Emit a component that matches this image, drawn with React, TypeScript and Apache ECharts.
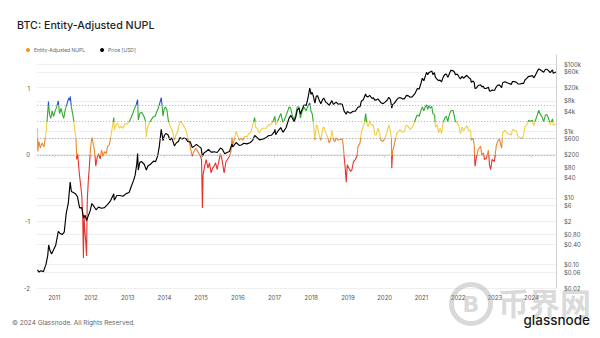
import React, { useEffect, useRef } from "react";
import * as echarts from "echarts";

const titleText = "BTC: Entity-Adjusted NUPL";
const seriesNames = ["Entity-Adjusted NUPL", "Price [USD]"];

const yearTicks = [2011, 2012, 2013, 2014, 2015, 2016, 2017, 2018, 2019, 2020, 2021, 2022, 2023, 2024];
const nuplTicks = [-2, -1, 0, 1];
const nuplBands = [0, 0.25, 0.5, 0.75];
const priceTicks = [0.02, 0.06, 0.1, 0.4, 0.8, 2, 6, 10, 40, 80, 200, 600, 1000, 4000, 8000, 20000, 60000, 100000];
const priceTickLabels = ["$0.02", "$0.06", "$0.10", "$0.40", "$0.80", "$2", "$6", "$10", "$40", "$80", "$200", "$600", "$1k", "$4k", "$8k", "$20k", "$60k", "$100k"];

const nuplPoints: [string, number][] = [
  ["2010-07-18", 0.4], ["2010-07-21", 0.05], ["2010-08-01", 0.2], ["2010-08-15", 0.1], ["2010-09-01", 0.18],
  ["2010-09-20", 0.12], ["2010-10-08", 0.3], ["2010-10-22", 0.52], ["2010-11-04", 0.8], ["2010-11-15", 0.6],
  ["2010-11-28", 0.55], ["2010-12-10", 0.66], ["2010-12-25", 0.58], ["2011-01-10", 0.66], ["2011-01-25", 0.72],
  ["2011-02-10", 0.81], ["2011-02-22", 0.62], ["2011-03-10", 0.7], ["2011-03-25", 0.6], ["2011-04-05", 0.55],
  ["2011-04-20", 0.68], ["2011-05-10", 0.78], ["2011-05-25", 0.85], ["2011-06-03", 0.82], ["2011-06-09", 0.88],
  ["2011-06-20", 0.72], ["2011-07-05", 0.6], ["2011-07-15", 0.5], ["2011-07-25", 0.36], ["2011-08-05", 0.25],
  ["2011-08-12", -0.07], ["2011-08-22", 0.02], ["2011-09-05", -0.25], ["2011-09-20", -0.45], ["2011-10-01", -0.6],
  ["2011-10-10", -0.9], ["2011-10-18", -1.55], ["2011-10-24", -0.9], ["2011-10-30", -1.1], ["2011-11-10", -1.3],
  ["2011-11-18", -1.52], ["2011-11-25", -0.7], ["2011-12-05", -0.4], ["2011-12-15", -0.2], ["2011-12-25", 0.05],
  ["2012-01-05", 0.22], ["2012-01-12", 0.27], ["2012-01-25", 0.15], ["2012-02-05", 0.07], ["2012-02-18", -0.17],
  ["2012-03-01", -0.05], ["2012-03-15", 0.02], ["2012-04-01", -0.06], ["2012-04-15", 0.07], ["2012-05-01", -0.02],
  ["2012-05-15", 0.05], ["2012-06-01", 0.02], ["2012-06-15", 0.13], ["2012-07-01", 0.15], ["2012-07-15", 0.25],
  ["2012-08-01", 0.42], ["2012-08-15", 0.56], ["2012-08-20", 0.37], ["2012-09-05", 0.45], ["2012-09-20", 0.48],
  ["2012-10-10", 0.4], ["2012-10-25", 0.43], ["2012-11-15", 0.4], ["2012-12-05", 0.47], ["2012-12-25", 0.46],
  ["2013-01-15", 0.5], ["2013-02-01", 0.55], ["2013-02-20", 0.62], ["2013-03-10", 0.7], ["2013-03-25", 0.75],
  ["2013-04-09", 0.83], ["2013-04-16", 0.52], ["2013-04-30", 0.62], ["2013-05-20", 0.64], ["2013-06-10", 0.58],
  ["2013-06-25", 0.52], ["2013-07-05", 0.27], ["2013-07-15", 0.4], ["2013-08-01", 0.47], ["2013-08-20", 0.52],
  ["2013-09-10", 0.57], ["2013-09-30", 0.58], ["2013-10-15", 0.64], ["2013-11-05", 0.72], ["2013-11-20", 0.8],
  ["2013-11-30", 0.86], ["2013-12-08", 0.75], ["2013-12-18", 0.58], ["2013-12-28", 0.68], ["2014-01-10", 0.72],
  ["2014-01-25", 0.68], ["2014-02-10", 0.5], ["2014-03-01", 0.42], ["2014-03-20", 0.37], ["2014-04-10", 0.22],
  ["2014-04-25", 0.3], ["2014-05-10", 0.34], ["2014-06-01", 0.48], ["2014-06-15", 0.5], ["2014-07-05", 0.45],
  ["2014-07-25", 0.4], ["2014-08-10", 0.34], ["2014-08-20", 0.25], ["2014-09-05", 0.2], ["2014-09-20", 0.08],
  ["2014-10-05", -0.02], ["2014-10-20", 0.05], ["2014-11-10", 0.1], ["2014-11-25", 0.06], ["2014-12-10", 0.02],
  ["2014-12-28", -0.03], ["2015-01-05", -0.07], ["2015-01-14", -0.8], ["2015-01-20", -0.3], ["2015-02-05", -0.17],
  ["2015-02-20", -0.07], ["2015-03-10", -0.2], ["2015-03-25", -0.12], ["2015-04-10", -0.27], ["2015-04-25", -0.2],
  ["2015-05-10", -0.17], ["2015-05-25", -0.12], ["2015-06-10", -0.22], ["2015-06-25", -0.1], ["2015-07-12", 0.02],
  ["2015-07-25", -0.05], ["2015-08-18", -0.27], ["2015-09-05", -0.1], ["2015-09-20", -0.07], ["2015-10-10", -0.02],
  ["2015-10-25", 0.05], ["2015-11-04", 0.27], ["2015-11-12", 0.15], ["2015-11-25", 0.22], ["2015-12-15", 0.35],
  ["2015-12-28", 0.3], ["2016-01-15", 0.22], ["2016-01-30", 0.25], ["2016-02-20", 0.22], ["2016-03-10", 0.28],
  ["2016-04-01", 0.27], ["2016-04-20", 0.32], ["2016-05-10", 0.34], ["2016-05-28", 0.45], ["2016-06-17", 0.56],
  ["2016-06-25", 0.42], ["2016-07-10", 0.4], ["2016-08-02", 0.33], ["2016-08-20", 0.38], ["2016-09-10", 0.4],
  ["2016-10-10", 0.4], ["2016-10-30", 0.45], ["2016-11-20", 0.45], ["2016-12-15", 0.5], ["2017-01-04", 0.58],
  ["2017-01-12", 0.45], ["2017-01-30", 0.5], ["2017-02-20", 0.58], ["2017-03-05", 0.62], ["2017-03-25", 0.48],
  ["2017-04-15", 0.55], ["2017-05-10", 0.65], ["2017-05-25", 0.72], ["2017-06-10", 0.7], ["2017-06-25", 0.6],
  ["2017-07-15", 0.52], ["2017-08-01", 0.62], ["2017-08-15", 0.72], ["2017-09-02", 0.72], ["2017-09-15", 0.55],
  ["2017-10-01", 0.65], ["2017-10-20", 0.72], ["2017-11-10", 0.66], ["2017-11-25", 0.72], ["2017-12-17", 0.78],
  ["2017-12-30", 0.65], ["2018-01-10", 0.62], ["2018-01-20", 0.5], ["2018-02-06", 0.22], ["2018-02-20", 0.45],
  ["2018-03-05", 0.42], ["2018-03-20", 0.3], ["2018-04-06", 0.22], ["2018-04-25", 0.4], ["2018-05-05", 0.42],
  ["2018-05-25", 0.33], ["2018-06-10", 0.28], ["2018-06-28", 0.18], ["2018-07-10", 0.22], ["2018-07-25", 0.37],
  ["2018-08-10", 0.22], ["2018-08-25", 0.2], ["2018-09-05", 0.26], ["2018-09-25", 0.22], ["2018-10-15", 0.23],
  ["2018-11-05", 0.24], ["2018-11-15", 0.15], ["2018-11-25", -0.05], ["2018-12-05", -0.2], ["2018-12-15", -0.41],
  ["2018-12-25", -0.15], ["2019-01-10", -0.2], ["2019-01-28", -0.25], ["2019-02-10", -0.22], ["2019-02-25", -0.1],
  ["2019-03-15", -0.07], ["2019-04-01", -0.02], ["2019-04-10", 0.12], ["2019-05-01", 0.18], ["2019-05-15", 0.35],
  ["2019-06-01", 0.42], ["2019-06-15", 0.48], ["2019-06-26", 0.62], ["2019-07-05", 0.5], ["2019-07-20", 0.42],
  ["2019-08-05", 0.5], ["2019-08-20", 0.45], ["2019-09-10", 0.45], ["2019-09-25", 0.3], ["2019-10-10", 0.3],
  ["2019-10-26", 0.4], ["2019-11-10", 0.33], ["2019-11-25", 0.22], ["2019-12-15", 0.2], ["2020-01-05", 0.25],
  ["2020-01-25", 0.35], ["2020-02-12", 0.45], ["2020-02-28", 0.35], ["2020-03-08", 0.25], ["2020-03-12", -0.2],
  ["2020-03-20", 0.05], ["2020-04-05", 0.15], ["2020-04-30", 0.32], ["2020-05-15", 0.35], ["2020-06-01", 0.38],
  ["2020-06-25", 0.34], ["2020-07-15", 0.35], ["2020-08-05", 0.45], ["2020-08-25", 0.42], ["2020-09-10", 0.38],
  ["2020-09-25", 0.4], ["2020-10-15", 0.45], ["2020-10-30", 0.52], ["2020-11-20", 0.6], ["2020-12-10", 0.58],
  ["2020-12-30", 0.68], ["2021-01-10", 0.72], ["2021-01-25", 0.66], ["2021-02-10", 0.73], ["2021-02-21", 0.75],
  ["2021-03-05", 0.68], ["2021-03-15", 0.74], ["2021-04-01", 0.7], ["2021-04-14", 0.73], ["2021-04-25", 0.62],
  ["2021-05-12", 0.6], ["2021-05-20", 0.42], ["2021-06-05", 0.45], ["2021-06-22", 0.33], ["2021-07-05", 0.4],
  ["2021-07-20", 0.32], ["2021-08-05", 0.48], ["2021-08-20", 0.55], ["2021-09-05", 0.58], ["2021-09-20", 0.5],
  ["2021-10-05", 0.6], ["2021-10-20", 0.66], ["2021-11-10", 0.67], ["2021-11-25", 0.58], ["2021-12-05", 0.5],
  ["2021-12-25", 0.48], ["2022-01-10", 0.42], ["2022-01-24", 0.32], ["2022-02-10", 0.42], ["2022-02-24", 0.36],
  ["2022-03-28", 0.44], ["2022-04-15", 0.37], ["2022-05-05", 0.36], ["2022-05-12", 0.22], ["2022-05-30", 0.25],
  ["2022-06-10", 0.15], ["2022-06-18", -0.17], ["2022-07-01", -0.05], ["2022-07-20", 0.08], ["2022-08-12", 0.13],
  ["2022-08-25", 0.0], ["2022-09-10", 0.03], ["2022-09-20", -0.07], ["2022-10-10", -0.05], ["2022-10-30", 0.07],
  ["2022-11-09", -0.15], ["2022-11-21", -0.22], ["2022-12-05", -0.07], ["2022-12-28", -0.1], ["2023-01-15", 0.13],
  ["2023-01-28", 0.2], ["2023-02-15", 0.24], ["2023-03-10", 0.1], ["2023-03-20", 0.33], ["2023-04-12", 0.37],
  ["2023-05-10", 0.32], ["2023-06-15", 0.3], ["2023-06-25", 0.38], ["2023-07-15", 0.37], ["2023-08-05", 0.35],
  ["2023-08-20", 0.27], ["2023-09-10", 0.26], ["2023-09-30", 0.25], ["2023-10-15", 0.3], ["2023-10-28", 0.42],
  ["2023-11-15", 0.45], ["2023-12-05", 0.52], ["2023-12-20", 0.5], ["2024-01-10", 0.52], ["2024-01-23", 0.44],
  ["2024-02-10", 0.52], ["2024-02-28", 0.6], ["2024-03-14", 0.67], ["2024-03-25", 0.62], ["2024-04-15", 0.57],
  ["2024-05-01", 0.5], ["2024-05-20", 0.6], ["2024-06-05", 0.6], ["2024-06-25", 0.52], ["2024-07-05", 0.45],
  ["2024-07-28", 0.54], ["2024-08-05", 0.44], ["2024-08-31", 0.47],
];

const pricePoints: [string, number][] = [
  ["2010-07-18", 0.07], ["2010-08-01", 0.06], ["2010-08-20", 0.066], ["2010-09-15", 0.062], ["2010-10-10", 0.1],
  ["2010-10-28", 0.19], ["2010-11-06", 0.39], ["2010-11-20", 0.26], ["2010-12-05", 0.21], ["2010-12-25", 0.28],
  ["2011-01-15", 0.38], ["2011-02-10", 1.0], ["2011-02-25", 0.88], ["2011-03-20", 0.8], ["2011-04-10", 0.95],
  ["2011-04-30", 3.5], ["2011-05-20", 6.8], ["2011-06-08", 29.6], ["2011-06-20", 15.5], ["2011-07-10", 14.5],
  ["2011-07-30", 13.4], ["2011-08-20", 10.8], ["2011-09-10", 5.0], ["2011-10-01", 5.1], ["2011-10-20", 2.5],
  ["2011-11-05", 3.0], ["2011-11-18", 2.1], ["2011-12-05", 2.9], ["2011-12-25", 4.2], ["2012-01-10", 6.8],
  ["2012-01-31", 5.5], ["2012-02-20", 4.4], ["2012-03-15", 5.3], ["2012-04-15", 4.9], ["2012-05-15", 5.1],
  ["2012-06-15", 6.4], ["2012-07-15", 8.3], ["2012-08-15", 13.3], ["2012-08-20", 8.5], ["2012-09-15", 11.8],
  ["2012-10-15", 11.8], ["2012-11-15", 11.2], ["2012-12-15", 13.4], ["2013-01-15", 14.5], ["2013-02-01", 20.5],
  ["2013-02-28", 33.4], ["2013-03-15", 47], ["2013-04-01", 104], ["2013-04-09", 214], ["2013-04-16", 68],
  ["2013-05-01", 116], ["2013-05-20", 122], ["2013-06-15", 100], ["2013-07-05", 68], ["2013-07-20", 90],
  ["2013-08-15", 102], ["2013-09-15", 126], ["2013-10-05", 122], ["2013-10-25", 180], ["2013-11-10", 330],
  ["2013-11-30", 1130], ["2013-12-08", 800], ["2013-12-18", 520], ["2013-12-31", 740], ["2014-01-15", 850],
  ["2014-02-05", 780], ["2014-02-25", 540], ["2014-03-15", 630], ["2014-04-10", 360], ["2014-04-30", 450],
  ["2014-05-20", 490], ["2014-06-05", 650], ["2014-06-25", 580], ["2014-07-15", 620], ["2014-08-05", 585],
  ["2014-08-20", 490], ["2014-09-15", 475], ["2014-10-05", 320], ["2014-10-25", 355], ["2014-11-15", 400],
  ["2014-12-10", 350], ["2014-12-31", 315], ["2015-01-14", 178], ["2015-01-31", 225], ["2015-02-20", 245],
  ["2015-03-15", 285], ["2015-04-10", 235], ["2015-05-10", 240], ["2015-06-10", 229], ["2015-07-12", 310],
  ["2015-07-31", 285], ["2015-08-24", 210], ["2015-09-15", 230], ["2015-10-10", 245], ["2015-11-04", 405],
  ["2015-11-12", 335], ["2015-12-15", 455], ["2016-01-15", 375], ["2016-02-05", 385], ["2016-03-01", 432],
  ["2016-04-01", 415], ["2016-05-01", 450], ["2016-05-28", 530], ["2016-06-17", 740], ["2016-07-05", 670],
  ["2016-08-02", 545], ["2016-09-01", 575], ["2016-10-01", 615], ["2016-11-01", 730], ["2016-12-01", 755],
  ["2016-12-31", 960], ["2017-01-04", 1130], ["2017-01-12", 780], ["2017-02-01", 985], ["2017-03-03", 1280],
  ["2017-03-25", 920], ["2017-04-25", 1260], ["2017-05-25", 2450], ["2017-06-12", 2950], ["2017-07-15", 1950],
  ["2017-08-01", 2730], ["2017-08-15", 4300], ["2017-09-01", 4900], ["2017-09-15", 3250], ["2017-10-01", 4400],
  ["2017-10-20", 6000], ["2017-11-12", 5900], ["2017-11-30", 10000], ["2017-12-17", 19300], ["2017-12-30", 12600],
  ["2018-01-10", 14500], ["2018-01-20", 11500], ["2018-02-06", 6900], ["2018-02-20", 11200], ["2018-03-05", 11500],
  ["2018-03-20", 8600], ["2018-04-06", 6600], ["2018-04-25", 9000], ["2018-05-05", 9800], ["2018-05-25", 7400],
  ["2018-06-10", 6800], ["2018-06-28", 5900], ["2018-07-25", 8200], ["2018-08-10", 6300], ["2018-09-05", 7400],
  ["2018-09-25", 6400], ["2018-10-15", 6600], ["2018-11-05", 6400], ["2018-11-25", 3900], ["2018-12-15", 3200],
  ["2018-12-25", 3900], ["2019-01-10", 3600], ["2019-01-28", 3450], ["2019-02-20", 3950], ["2019-03-15", 3950],
  ["2019-04-10", 5200], ["2019-05-01", 5400], ["2019-05-15", 8000], ["2019-06-01", 8550], ["2019-06-26", 12900],
  ["2019-07-05", 11000], ["2019-07-20", 10600], ["2019-08-05", 11800], ["2019-08-29", 9500], ["2019-09-10", 10100],
  ["2019-09-25", 8500], ["2019-10-10", 8600], ["2019-10-26", 9250], ["2019-11-25", 7100], ["2019-12-17", 6650],
  ["2020-01-05", 7400], ["2020-01-25", 8400], ["2020-02-12", 10350], ["2020-02-28", 8700], ["2020-03-12", 4900],
  ["2020-03-20", 6200], ["2020-04-05", 6800], ["2020-04-30", 8650], ["2020-05-15", 9700], ["2020-06-01", 10200],
  ["2020-06-25", 9250], ["2020-07-15", 9200], ["2020-08-05", 11750], ["2020-08-25", 11350], ["2020-09-10", 10350],
  ["2020-10-01", 10600], ["2020-10-30", 13500], ["2020-11-20", 18700], ["2020-12-10", 18300], ["2020-12-30", 28900],
  ["2021-01-10", 38300], ["2021-01-25", 32300], ["2021-02-21", 57500], ["2021-03-05", 48500], ["2021-03-15", 56000],
  ["2021-04-14", 63500], ["2021-04-25", 49000], ["2021-05-10", 56500], ["2021-05-20", 40600], ["2021-06-05", 35800],
  ["2021-06-22", 32500], ["2021-07-05", 33800], ["2021-07-20", 29800], ["2021-08-05", 40800], ["2021-08-20", 49300],
  ["2021-09-05", 51700], ["2021-09-21", 40700], ["2021-10-05", 51500], ["2021-10-20", 65900], ["2021-11-10", 65000],
  ["2021-11-25", 58900], ["2021-12-05", 49400], ["2021-12-25", 50800], ["2022-01-10", 41800], ["2022-01-24", 36600],
  ["2022-02-10", 43500], ["2022-02-24", 38300], ["2022-03-28", 47100], ["2022-04-15", 40500], ["2022-05-05", 36500],
  ["2022-05-12", 29000], ["2022-05-30", 31700], ["2022-06-10", 29000], ["2022-06-18", 19000], ["2022-07-01", 19300],
  ["2022-07-20", 23200], ["2022-08-12", 24400], ["2022-08-25", 21600], ["2022-09-10", 21800], ["2022-09-20", 18900],
  ["2022-10-10", 19100], ["2022-10-30", 20600], ["2022-11-09", 15900], ["2022-11-21", 15800], ["2022-12-05", 17100],
  ["2022-12-28", 16500], ["2023-01-15", 20900], ["2023-01-28", 23700], ["2023-02-15", 24300], ["2023-03-10", 20200],
  ["2023-03-20", 28000], ["2023-04-12", 30000], ["2023-05-10", 27600], ["2023-06-15", 25100], ["2023-06-25", 30500],
  ["2023-07-15", 30300], ["2023-08-05", 29000], ["2023-08-20", 26100], ["2023-09-10", 25800], ["2023-09-30", 27000],
  ["2023-10-15", 27000], ["2023-10-28", 34100], ["2023-11-15", 37900], ["2023-12-05", 44000], ["2023-12-20", 43700],
  ["2024-01-10", 46600], ["2024-01-23", 39500], ["2024-02-10", 47700], ["2024-02-28", 62500], ["2024-03-14", 73100],
  ["2024-03-25", 70000], ["2024-04-15", 63400], ["2024-05-01", 57800], ["2024-05-20", 71400], ["2024-06-05", 71100],
  ["2024-06-25", 61800], ["2024-07-05", 56600], ["2024-07-28", 68200], ["2024-08-05", 54000], ["2024-08-31", 59000],
];

const bandColors = { red: "#e0342f", orange: "#ee8526", yellow: "#f1cf45", green: "#2fab2f", blue: "#2d52cc" };

const font = "Inter, 'Noto Sans', sans-serif";

const ts = (d: string) => {
  const [y, m, day] = d.split("-").map(Number);
  return Date.UTC(y, m - 1, day);
};

export default function App() {
  const ref = useRef<HTMLDivElement>(null);

  useEffect(() => {
    if (!ref.current) return;
    const chart = echarts.init(ref.current, undefined, { renderer: "svg" });
    const priceLogTicks = priceTicks.map((p) => Math.log10(p));
    const yearValues = yearTicks.map((y) => Date.UTC(y, 0, 1));

    const option: any = {
      animation: false,
      backgroundColor: "#ffffff",
      textStyle: { fontFamily: font },
      title: {
        text: titleText,
        left: 12,
        top: 15,
        textStyle: { fontSize: 10.7, fontWeight: 500, color: "#1f1f1f", fontFamily: font },
      },
      legend: {
        data: seriesNames,
        left: 26,
        top: 47.5,
        icon: "circle",
        itemWidth: 4,
        itemHeight: 4,
        itemGap: 15,
        padding: 0,
        textStyle: { fontSize: 5, color: "#666", fontFamily: font, padding: [0, 0, 0, -1] },
      },
      grid: { left: 37, right: 44, top: 55, bottom: 50 },
      visualMap: {
        type: "piecewise",
        show: false,
        seriesIndex: 0,
        dimension: 1,
        pieces: [
          { lt: 0, color: bandColors.red },
          { gte: 0, lt: 0.25, color: bandColors.orange },
          { gte: 0.25, lt: 0.5, color: bandColors.yellow },
          { gte: 0.5, lt: 0.75, color: bandColors.green },
          { gte: 0.75, color: bandColors.blue },
        ],
      },
      xAxis: {
        type: "value",
        min: Date.UTC(2010, 6, 13),
        max: Date.UTC(2024, 8, 1),
        axisLine: { show: true, lineStyle: { color: "#e6e6e6", width: 1 } },
        axisTick: { show: true, length: 3, lineStyle: { color: "#dcdcdc" }, customValues: yearValues },
        axisLabel: {
          customValues: yearValues,
          formatter: (v: number) => String(new Date(v).getUTCFullYear()),
          fontSize: 6,
          color: "#555",
          margin: 6,
          fontFamily: font,
        },
        splitLine: { show: false },
      },
      yAxis: [
        {
          type: "value",
          min: -2,
          max: 1.5,
          position: "left",
          axisLine: { show: false },
          axisTick: { show: false, customValues: nuplTicks },
          axisLabel: {
            customValues: nuplTicks,
            fontSize: 6,
            color: "#555",
            margin: 7,
            fontFamily: font,
            padding: [0, 0, 5, 0],
          },
          splitLine: { show: false },
        },
        {
          type: "value",
          position: "right",
          min: Math.log10(0.02),
          max: 5.28,
          axisLine: { show: true, lineStyle: { color: "#cfcfcf", width: 1 } },
          axisTick: { show: false, customValues: priceLogTicks },
          axisLabel: {
            customValues: priceLogTicks,
            fontSize: 6,
            color: "#555",
            margin: 8,
            fontFamily: font,
            padding: [0, 0, 3, 0],
            formatter: (v: number) => {
              let best = 0;
              priceLogTicks.forEach((t, i) => {
                if (Math.abs(t - v) < Math.abs(priceLogTicks[best] - v)) best = i;
              });
              return priceTickLabels[best];
            },
          },
          splitLine: { show: true, lineStyle: { color: "#ebebeb", width: 0.8 } },
        },
      ],
      series: [
        {
          name: seriesNames[0],
          type: "line",
          yAxisIndex: 0,
          showSymbol: false,
          symbol: "none",
          data: nuplPoints.map(([d, v]) => [ts(d), v]),
          itemStyle: { color: "#f7931a" },
          lineStyle: { width: 1.1 },
          z: 3,
          markLine: {
            silent: true,
            symbol: "none",
            label: { show: false },
            lineStyle: { type: [1.2, 1.8], color: "#a8a8a8", width: 0.8 },
            data: nuplBands.map((b) => ({ yAxis: b })),
          },
        },
        {
          name: seriesNames[1],
          type: "line",
          yAxisIndex: 1,
          showSymbol: false,
          symbol: "none",
          data: pricePoints.map(([d, p]) => [ts(d), Math.log10(p)]),
          itemStyle: { color: "#000000" },
          lineStyle: { width: 1.15, color: "#000000" },
          z: 4,
        },
      ],
      graphic: [
        {
          type: "text",
          left: 12,
          top: 319,
          style: { text: "© 2024 Glassnode. All Rights Reserved.", fontSize: 6.5, fill: "#666", fontFamily: font },
        },
        {
          type: "ring",
          shape: { cx: 471, cy: 304, r: 22, r0: 17 },
          style: { fill: "rgba(165,165,165,0.42)" },
          z: 1,
        },
        {
          type: "text",
          x: 471,
          y: 304,
          style: {
            text: "B",
            fontSize: 22,
            fontWeight: 700,
            fill: "rgba(165,165,165,0.42)",
            align: "center",
            verticalAlign: "middle",
            fontFamily: "'DejaVu Sans', sans-serif",
          },
          z: 1,
        },
        {
          type: "text",
          x: 498,
          y: 286,
          style: {
            text: "币界网",
            fontSize: 31,
            fontWeight: 700,
            fill: "rgba(165,165,165,0.42)",
            fontFamily: "'Noto Sans CJK SC', sans-serif",
          },
          z: 1,
        },
        {
          type: "text",
          right: 10,
          top: 313,
          style: { text: "glassnode", fontSize: 13.5, fontWeight: 500, fill: "#1a1a1a", fontFamily: font },
          z: 5,
        },
      ],
    };

    chart.setOption(option);
    return () => chart.dispose();
  }, []);

  return (
    <div
      ref={ref}
      style={{ position: "fixed", left: 0, top: 0, width: 600, height: 338, background: "#fff" }}
    />
  );
}
